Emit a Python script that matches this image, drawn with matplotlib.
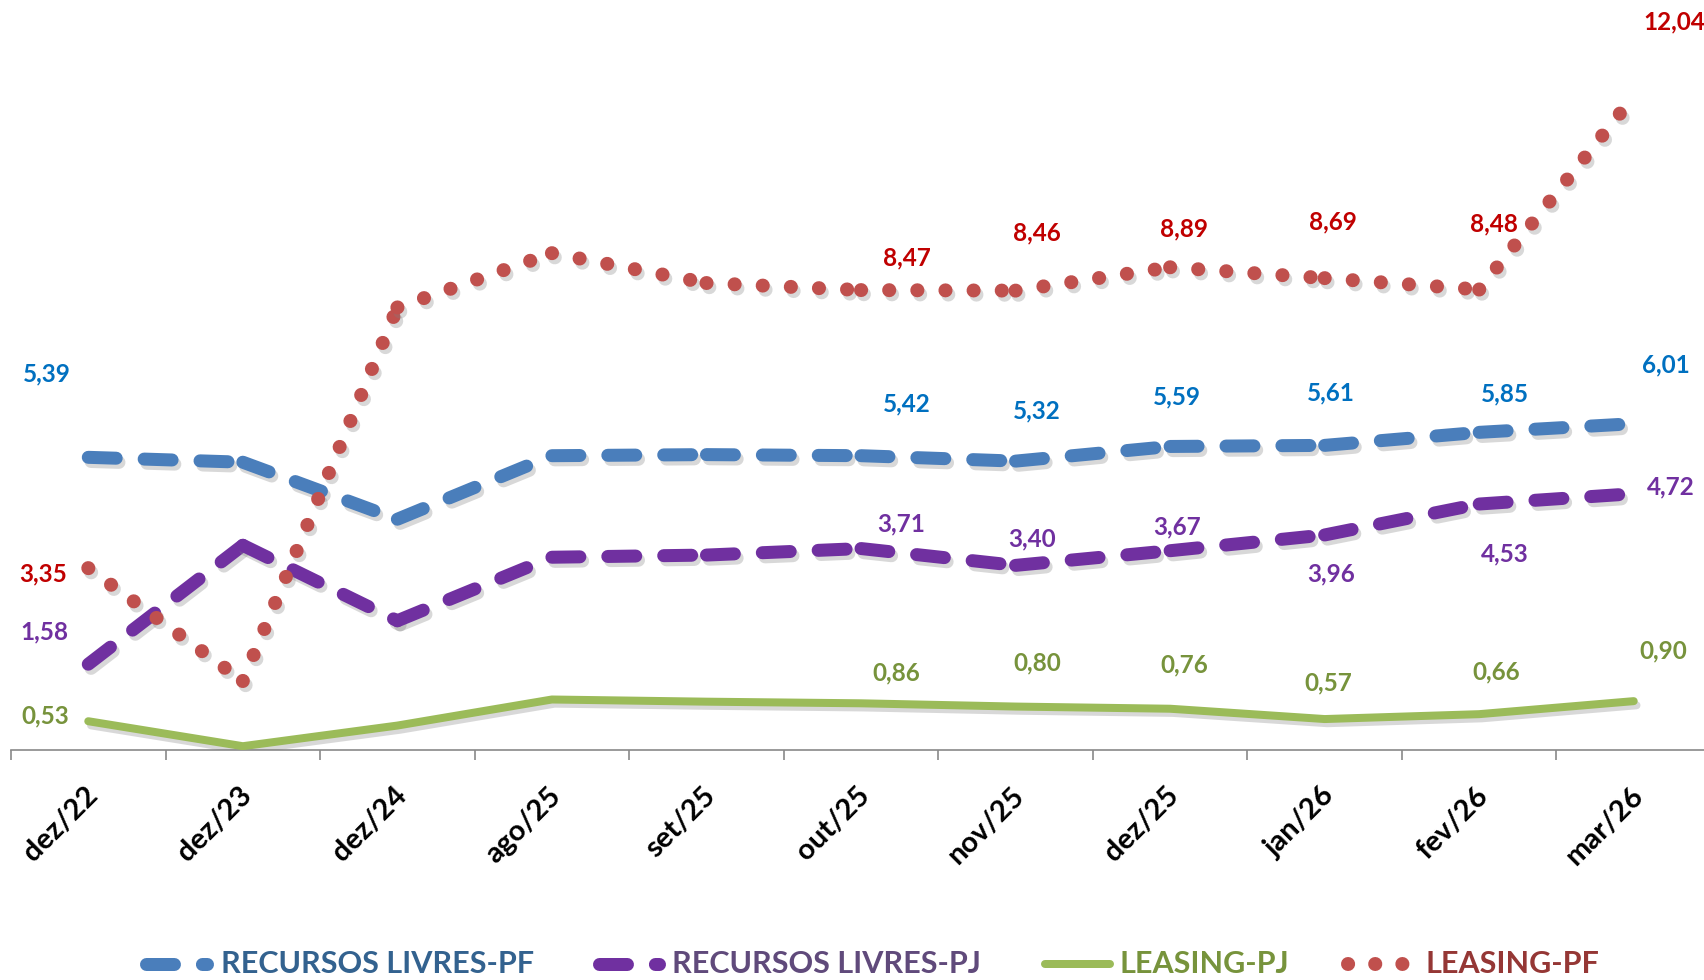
import numpy as np
import matplotlib.pyplot as plt
import matplotlib.patheffects as pe
from matplotlib.lines import Line2D
from matplotlib.transforms import ScaledTranslation

meses = ["dez/22", "dez/23", "dez/24", "ago/25", "set/25", "out/25",
         "nov/25", "dez/25", "jan/26", "fev/26", "mar/26"]
rec_livres_pf = [5.39, 5.30, 4.25, 5.42, 5.44, 5.42, 5.32, 5.59, 5.61, 5.85, 6.01]
rec_livres_pj = [1.58, 3.77, 2.38, 3.55, 3.59, 3.71, 3.40, 3.67, 3.96, 4.53, 4.72]
leasing_pj = [0.53, 0.07, 0.45, 0.93, 0.89, 0.86, 0.80, 0.76, 0.57, 0.66, 0.90]
leasing_pf = [3.35, 1.27, 8.15, 9.15, 8.60, 8.47, 8.46, 8.89, 8.69, 8.48, 12.04]
rotulados = [0, 5, 6, 7, 8, 9, 10]  # points that carry a data label

W, H = 1704, 980
fig = plt.figure(figsize=(W / 100, H / 100), dpi=100, facecolor="white")
ax = fig.add_axes([11 / W, 1 - 750 / H, 1700 / W, 750 / H])
ax.set_xlim(-0.5, 10.5)
ax.set_ylim(0, 750 / 54.3)

x = np.arange(len(meses))
sombra = [pe.SimpleLineShadow(offset=(2, -3), shadow_color="#808080", alpha=0.3), pe.Normal()]
px = 0.72  # points per pixel at 100 dpi

AZUL, ROXO, VERDE, VERMELHO = "#4A7EBB", "#7030A0", "#9BBB59", "#C0504D"


def tracejado(vals, cor, dashes, lw_px):
    # Excel restarts the dash pattern on every segment
    for i in range(len(vals) - 1):
        ax.plot(x[i:i + 2], vals[i:i + 2], color=cor, lw=lw_px * px, dashes=dashes,
                dash_capstyle="round", path_effects=sombra, zorder=3)


tracejado(rec_livres_pf, AZUL, (2.15, 2.15), 13)
tracejado(rec_livres_pj, ROXO, (2.15, 2.15), 13)
ax.plot(x, leasing_pj, color=VERDE, lw=8 * px, solid_capstyle="round",
        solid_joinstyle="round", path_effects=sombra, zorder=3)
tracejado(leasing_pf, VERMELHO, (0.01, 2.0), 14)

# label offsets in pixels (dx, dy) for each labelled point
desloc_pf = [(-38, 77), (42, 48), (20, 46), (6, 46), (6, 48), (24, 35), (30, 54)]
desloc_pj = [(-40, 30), (37, 23), (15, 24), (6, 22), (6, -36), (24, -46), (34, 6)]
desloc_lpj = [(-40, 5), (32, 28), (20, 40), (13, 40), (3, 33), (16, 39), (27, 46)]
desloc_lpf = [(-42, -5), (42, 30), (20, 53), (13, 35), (8, 52), (14, 60), (37, 68)]

series = [(rec_livres_pf, desloc_pf, "#0070C0"), (rec_livres_pj, desloc_pj, "#7030A0"),
          (leasing_pj, desloc_lpj, "#77933C"), (leasing_pf, desloc_lpf, "#C00000")]
for vals, desl, cor in series:
    for i, (dx, dy) in zip(rotulados, desl):
        ax.annotate(f"{vals[i]:.2f}".replace(".", ","), (x[i], vals[i]),
                    xytext=(dx * 1.0867, dy * 1.0867), textcoords="offset pixels",
                    ha="center", va="center", fontsize=17.5, fontweight="bold",
                    family="Lato", color=cor, zorder=5)

# axis
for s in ["left", "right", "top"]:
    ax.spines[s].set_visible(False)
ax.spines["bottom"].set_color("#898989")
ax.spines["bottom"].set_linewidth(1.2)
ax.set_yticks([])
ax.set_xticks(x)
ax.set_xticklabels(meses, rotation=45, ha="right", va="center", rotation_mode="anchor",
                   fontsize=21, fontweight="bold", family="Lato", color="black")
ax.set_xticks(np.arange(-0.5, 11, 1), minor=True)
ax.tick_params(axis="x", which="major", length=0, pad=30)
ax.tick_params(axis="x", which="minor", length=7.5, width=1.2, color="#898989")
for lab in ax.get_xticklabels():
    lab.set_transform(lab.get_transform() + ScaledTranslation(0.05, 0, fig.dpi_scale_trans))

# legend drawn by hand
ly = 1 - 964 / H


def item(x0, x1, cor, estilo, texto, tx, cor_txt):
    ln = Line2D([x0 / W, x1 / W], [ly, ly], transform=fig.transFigure, color=cor, **estilo)
    fig.add_artist(ln)
    fig.text(tx / W, ly, texto, ha="left", va="center", fontsize=22, fontweight="bold",
             family="Lato", color=cor_txt)


item(146, 207, AZUL, dict(lw=13 * px, dashes=(2.15, 2.15), dash_capstyle="round"),
     "RECURSOS LIVRES-PF", 221, "#33628F")
item(599, 659, ROXO, dict(lw=13 * px, dashes=(2.15, 2.15), dash_capstyle="round"),
     "RECURSOS LIVRES-PJ", 672, "#604A7B")
item(1045, 1110, VERDE, dict(lw=8 * px, solid_capstyle="round"),
     "LEASING-PJ", 1119, "#77933C")
item(1348, 1403, VERMELHO, dict(lw=14 * px, dashes=(0.01, 1.93), dash_capstyle="round"),
     "LEASING-PF", 1426, "#953735")

fig.savefig("out.png", dpi=100, facecolor="white")
